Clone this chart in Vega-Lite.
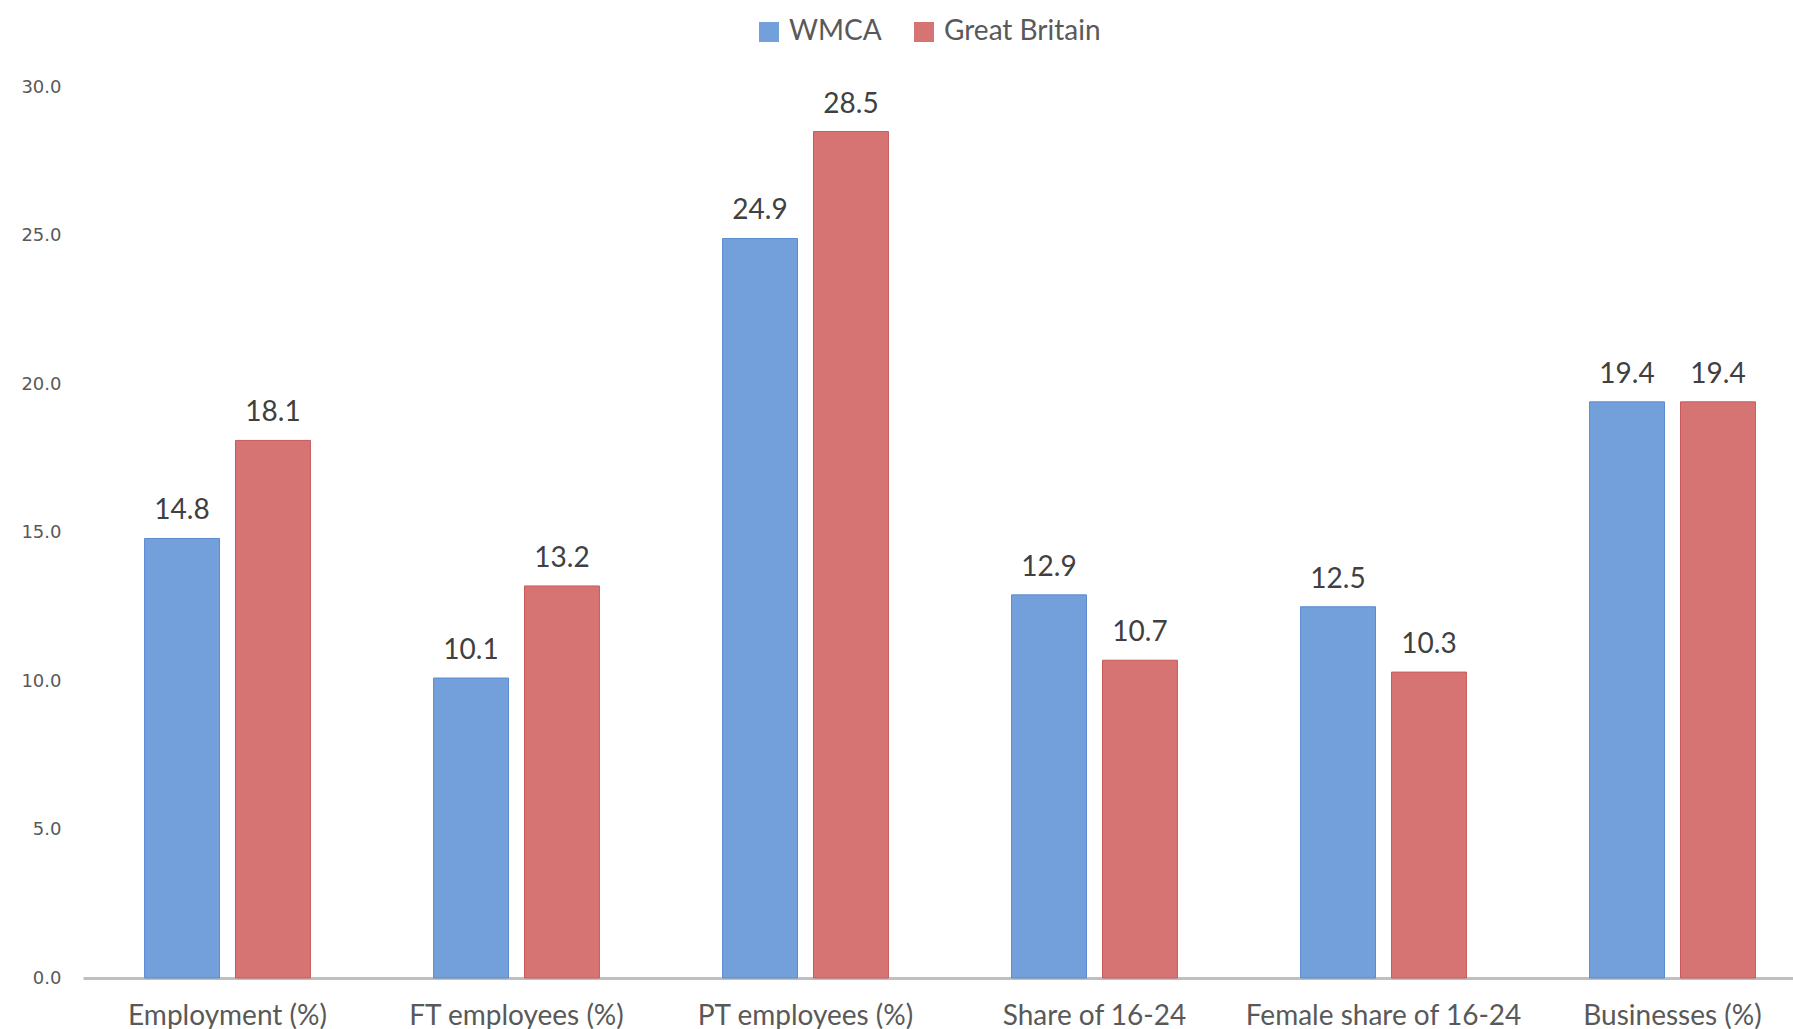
{
  "$schema": "https://vega.github.io/schema/vega-lite/v6.json",
  "autosize": "none",
  "width": 1734,
  "height": 891,
  "padding": {"left": 83, "top": 87, "right": 0, "bottom": 51},
  "background": "white",
  "config": {"view": {"stroke": null}},
  "data": {
    "values": [
      {"category": "Employment (%)", "series": "WMCA", "value": 14.8},
      {"category": "Employment (%)", "series": "Great Britain", "value": 18.1},
      {"category": "FT employees (%)", "series": "WMCA", "value": 10.1},
      {"category": "FT employees (%)", "series": "Great Britain", "value": 13.2},
      {"category": "PT employees (%)", "series": "WMCA", "value": 24.9},
      {"category": "PT employees (%)", "series": "Great Britain", "value": 28.5},
      {"category": "Share of 16-24", "series": "WMCA", "value": 12.9},
      {"category": "Share of 16-24", "series": "Great Britain", "value": 10.7},
      {"category": "Female share of 16-24", "series": "WMCA", "value": 12.5},
      {"category": "Female share of 16-24", "series": "Great Britain", "value": 10.3},
      {"category": "Businesses (%)", "series": "WMCA", "value": 19.4},
      {"category": "Businesses (%)", "series": "Great Britain", "value": 19.4}
    ]
  },
  "encoding": {
    "x": {
      "field": "category",
      "type": "nominal",
      "sort": null,
      "scale": {"paddingInner": 0.426, "paddingOuter": 0.213},
      "axis": {
        "title": null,
        "labelAngle": 0,
        "ticks": false,
        "domainColor": "#bfbfbf",
        "domainWidth": 3,
        "labelFont": "Lato",
        "labelFontSize": 28,
        "labelColor": "#595959",
        "labelPadding": 24,
        "labelLimit": 0
      }
    },
    "xOffset": {
      "field": "series",
      "type": "nominal",
      "sort": ["WMCA", "Great Britain"],
      "scale": {"paddingInner": 0.176, "paddingOuter": 0}
    },
    "y": {
      "field": "value",
      "type": "quantitative",
      "scale": {"domain": [0, 30], "nice": false},
      "axis": {
        "title": null,
        "values": [0, 5, 10, 15, 20, 25, 30],
        "format": ".1f",
        "grid": false,
        "ticks": false,
        "domain": false,
        "labelFont": "DejaVu Sans",
        "labelFontSize": 18,
        "labelColor": "#595959",
        "labelPadding": 22
      }
    }
  },
  "layer": [
    {
      "mark": {"type": "bar", "strokeWidth": 1},
      "encoding": {
        "color": {
          "field": "series",
          "type": "nominal",
          "sort": ["WMCA", "Great Britain"],
          "scale": {"domain": ["WMCA", "Great Britain"], "range": ["#73a0db", "#d67474"]},
          "legend": {
            "title": null,
            "orient": "none",
            "direction": "horizontal",
            "legendX": 672,
            "legendY": -69,
            "symbolType": "square",
            "symbolSize": 400,
            "symbolStrokeWidth": 0,
            "labelFont": "Lato",
            "labelFontSize": 28,
            "labelColor": "#595959",
            "labelOffset": 6,
            "columnPadding": 28
          }
        },
        "stroke": {
          "field": "series",
          "type": "nominal",
          "scale": {"domain": ["WMCA", "Great Britain"], "range": ["#5b8bd0", "#c95a5a"]},
          "legend": null
        }
      }
    },
    {
      "mark": {"type": "text", "baseline": "bottom", "dy": -13, "font": "Lato", "fontSize": 28, "color": "#404040"},
      "encoding": {
        "text": {"field": "value", "type": "quantitative", "format": ".1f"}
      }
    }
  ]
}
